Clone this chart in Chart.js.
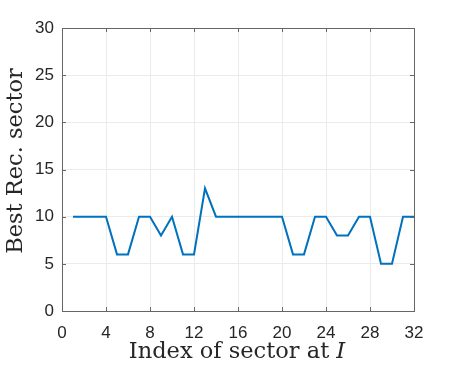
<!DOCTYPE html>
<html>
<head>
<meta charset="utf-8">
<script src="https://cdn.jsdelivr.net/npm/chart.js@4/dist/chart.umd.min.js"></script>
<style>
html, body { margin: 0; padding: 0; background: #fff; }
#wrap { width: 457px; height: 374px; }
</style>
</head>
<body>
<div id="wrap"><canvas id="myChart" width="457" height="374"></canvas></div>
<script>
// sector index on x, best rec. sector on y
const sectorIdx = [1,2,3,4,5,6,7,8,9,10,11,12,13,14,15,16,17,18,19,20,21,22,23,24,25,26,27,28,29,30,31,32];
const bestRec = [10,10,10,10,6,6,10,10,8,10,6,6,13,10,10,10,10,10,10,10,6,6,10,10,8,8,10,10,5,5,10,10];
const xTicks = [0,4,8,12,16,20,24,28,32];
const yTicks = [0,5,10,15,20,25,30];

const axisCol = '#666666';
const textCol = '#262626';

// box, inside ticks and axis titles (MATLAB look)
const boxPlugin = {
    id: 'boxPlugin',
    afterDraw(chart) {
        const ctx = chart.ctx;
        const a = chart.chartArea;
        const xs = chart.scales.x, ys = chart.scales.y;
        ctx.save();
        ctx.strokeStyle = axisCol;
        ctx.lineWidth = 1;
        ctx.strokeRect(Math.round(a.left) + 0.5, Math.round(a.top) + 0.5,
            Math.round(a.right - a.left), Math.round(a.bottom - a.top));
        ctx.beginPath();
        for (let i = 0; i < xTicks.length; i++) {
            let px = Math.round(xs.getPixelForValue(xTicks[i])) + 0.5;
            ctx.moveTo(px, a.bottom); ctx.lineTo(px, a.bottom - 4);
            ctx.moveTo(px, a.top); ctx.lineTo(px, a.top + 4);
        }
        for (let i = 0; i < yTicks.length; i++) {
            let py = Math.round(ys.getPixelForValue(yTicks[i])) + 0.5;
            ctx.moveTo(a.left, py); ctx.lineTo(a.left + 4, py);
            ctx.moveTo(a.right, py); ctx.lineTo(a.right - 4, py);
        }
        ctx.stroke();

        // x title with italic I
        ctx.fillStyle = textCol;
        ctx.textBaseline = 'alphabetic';
        const f1 = '22.5px "DejaVu Serif", "Liberation Serif", serif';
        const f2 = 'italic 22.5px "DejaVu Serif", "Liberation Serif", serif';
        ctx.font = f1;
        let t1 = 'Index of sector at ';
        let w1 = ctx.measureText(t1).width;
        ctx.font = f2;
        let w2 = ctx.measureText('I').width;
        let cx = (a.left + a.right) / 2 - 1;
        let sx = cx - (w1 + w2) / 2;
        ctx.font = f1;
        ctx.fillText(t1, sx, 358);
        ctx.font = f2;
        ctx.fillText('I', sx + w1, 358);

        // y title
        ctx.font = f1;
        ctx.translate(22, 161);
        ctx.rotate(-Math.PI / 2);
        ctx.textAlign = 'center';
        ctx.fillText('Best Rec. sector', 0, 0);
        ctx.restore();
    }
};

const ctx = document.getElementById('myChart').getContext('2d');
const chart = new Chart(ctx, {
    type: 'line',
    data: {
        datasets: [{
            data: sectorIdx.map((x, i) => ({x: x, y: bestRec[i]})),
            borderColor: '#0072BD',
            borderWidth: 2,
            pointRadius: 0,
            tension: 0,
            fill: false
        }]
    },
    options: {
        responsive: false,
        animation: false,
        events: [],
        layout: { padding: { left: 0, top: 28, right: 43, bottom: 0 } },
        plugins: { legend: { display: false }, tooltip: { enabled: false } },
        scales: {
            x: {
                type: 'linear', min: 0, max: 32,
                afterBuildTicks: (s) => { s.ticks = xTicks.map(v => ({value: v})); },
                afterFit: (s) => { s.height = 63; },
                grid: { color: '#ebebeb', drawTicks: false },
                border: { display: false },
                ticks: { padding: 12, color: textCol, maxRotation: 0,
                    font: { family: '"Liberation Sans", Arial, sans-serif', size: 17 } }
            },
            y: {
                type: 'linear', min: 0, max: 30,
                afterBuildTicks: (s) => { s.ticks = yTicks.map(v => ({value: v})); },
                afterFit: (s) => { s.width = 62; },
                grid: { color: '#ebebeb', drawTicks: false },
                border: { display: false },
                ticks: { padding: 8, color: textCol,
                    font: { family: '"Liberation Sans", Arial, sans-serif', size: 17 } }
            }
        }
    },
    plugins: [boxPlugin]
});
</script>
</body>
</html>
